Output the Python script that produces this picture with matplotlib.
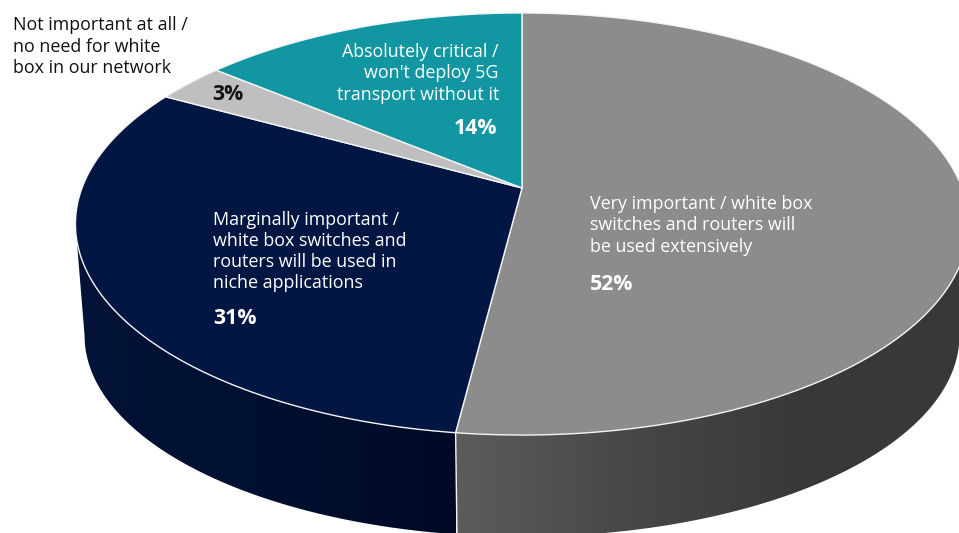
import numpy as np
import matplotlib
matplotlib.use("Agg")
import matplotlib.pyplot as plt
from matplotlib.colors import LinearSegmentedColormap
from matplotlib.patches import Polygon

# Survey shares, clockwise from twelve o'clock
shares = [52, 31, 3, 14]
captions = [
    "Very important / white box\nswitches and routers will\nbe used extensively",
    "Marginally important /\nwhite box switches and\nrouters will be used in\nniche applications",
    "Not important at all /\nno need for white\nbox in our network",
    "Absolutely critical /\nwon't deploy 5G\ntransport without it",
]
face_colors = ["#8c8c8c", "#021644", "#bfbfc1", "#1296a2"]
wall_ramps = [
    ["#5c5c5c", "#474747", "#383838", "#393939"],
    ["#000a26", "#001030", "#021338"],
]

plt.rcParams["font.family"] = ["Open Sans", "DejaVu Sans"]

W, H = 959, 533
fig = plt.figure(figsize=(W / 100, H / 100), dpi=100)
ax = fig.add_axes([0, 0, 1, 1])
ax.set_axis_off()

# Perspective model of the disc: the top and bottom rims share one vanishing factor
CX, K = 522.0, 0.1706
TOP = dict(y0=188.0, a=440.0, b=204.9)
BOTTOM = dict(y0=301.5, a=431.0, b=195.0)


def project(theta_deg, rim, radius=1.0):
    t = np.radians(theta_deg)
    u, v = radius * np.sin(t), radius * np.cos(t)
    s = 1.0 / (1.0 + K * v)
    return CX + rim["a"] * u * s, rim["y0"] - rim["b"] * v * s


edges = 360.0 * np.concatenate([[0], np.cumsum(shares)]) / np.sum(shares)


def add_wall(start, stop, ramp, x0, x1):
    angles = np.linspace(start, stop, 160)
    xt, yt = project(angles, TOP)
    xb, yb = project(angles[::-1], BOTTOM)
    outline = np.column_stack([np.r_[xt, xb], np.r_[yt, yb]])
    cmap = LinearSegmentedColormap.from_list("wall", ramp)
    img = ax.imshow(np.linspace(0, 1, 256)[None, :], cmap=cmap, extent=(x0, x1, H, 0),
                    aspect="auto", zorder=1, interpolation="bilinear")
    img.set_clip_path(Polygon(outline, transform=ax.transData))


# Visible side walls: the rim's silhouette sits where v = -K
right_limit = np.degrees(np.arccos(-K))
seam_left = project(edges[1], TOP)[0]
add_wall(right_limit, edges[1], wall_ramps[0], seam_left, W + 20)
add_wall(edges[1], 360 - right_limit, wall_ramps[1], seam_left, 60)

# White seam between the two walls
seam_x, seam_y = zip(project(edges[1], TOP), project(edges[1], BOTTOM))
ax.plot(seam_x, seam_y, color="#f2f2f2", lw=1.0, zorder=2)

# Top faces of the slices
apex = (CX, TOP["y0"])
for i, color in enumerate(face_colors):
    angles = np.linspace(edges[i], edges[i + 1], 240)
    xs, ys = project(angles, TOP)
    pts = np.vstack([apex, np.column_stack([xs, ys])])
    ax.add_patch(Polygon(pts, closed=True, facecolor=color, edgecolor="#f4f4f4",
                         lw=1.0, joinstyle="round", zorder=3))

# Captions and value labels
body = dict(fontsize=12.85, linespacing=1.22, zorder=5)
pct = dict(fontsize=15.3, fontweight="bold", zorder=5, va="center")
ax.text(590, 225.5, captions[0], color="white", ha="left", va="center", **body)
ax.text(590, 285, f"{shares[0]}%", color="white", ha="left", **pct)
ax.text(213, 251.5, captions[1], color="white", ha="left", va="center", **body)
ax.text(213, 319, f"{shares[1]}%", color="white", ha="left", **pct)
ax.text(13, 46.5, captions[2], color="#111111", ha="left", va="center", **body)
ax.text(212, 95, f"{shares[2]}%", color="#111111", ha="left", **pct)
ax.text(499, 73.5, captions[3], color="white", ha="right", va="center", **body)
ax.text(497, 129, f"{shares[3]}%", color="white", ha="right", **pct)

ax.set_xlim(0, W)
ax.set_ylim(H, 0)
fig.savefig("out.png", dpi=100, facecolor="white")
